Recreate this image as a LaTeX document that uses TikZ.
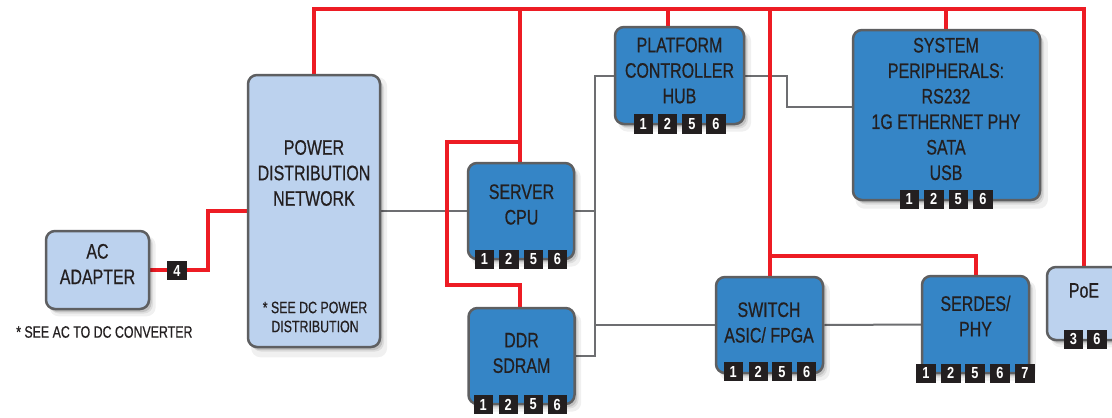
\documentclass[tikz,border=0pt]{standalone}
\usepackage{fontspec}
\setmainfont[FakeStretch=0.76,FakeBold=0.6]{Liberation Sans}
\newfontfamily\notefont[FakeStretch=0.75,FakeBold=0.5]{Liberation Sans}
\newfontfamily\badgefont[FakeStretch=0.8]{Liberation Sans Bold}
\usetikzlibrary{shadows}
\pgfdeclarelayer{paper}
\pgfdeclarelayer{wires}
\pgfsetlayers{paper,wires,main}
\definecolor{dkblue}{HTML}{3585C6}
\definecolor{ltblue}{HTML}{BCD2EE}
\definecolor{bordergray}{HTML}{5E5F61}
\definecolor{wirered}{HTML}{ED1C24}
\definecolor{wiregray}{HTML}{6D6E71}
\definecolor{ink}{HTML}{231F20}
\tikzset{
 softshadow/.style={
   general shadow={fill=black, opacity=0.06, shadow xshift=5pt, shadow yshift=-6pt, shadow scale=1.03},
   general shadow={fill=black, opacity=0.08, shadow xshift=4pt, shadow yshift=-4.5pt},
   general shadow={fill=black, opacity=0.12, shadow xshift=2.5pt, shadow yshift=-3pt}},
 box/.style={draw=bordergray, line width=2.5pt, rounded corners=9pt, inner sep=0pt, softshadow},
 bluebox/.style={box, fill=dkblue},
 lightbox/.style={box, fill=ltblue},
 lbl/.style={text=ink, align=center, font=\fontsize{21}{25.5}\selectfont, inner sep=0pt},
 note/.style={text=ink, align=center, font=\notefont\fontsize{16.5}{19}\selectfont, inner sep=0pt},
 badge/.style={fill=ink, text=white, minimum size=19.5pt, inner sep=0pt, font=\badgefont\fontsize{16}{16}\selectfont},
 redw/.style={draw=wirered, line width=4pt},
 grayw/.style={draw=wiregray, line width=2pt},
}
\begin{document}
\begin{tikzpicture}[x=1pt,y=-1pt]
\path[use as bounding box, clip] (0,0) rectangle (1112,418);
\begin{pgfonlayer}{paper}
\fill[white] (0,0) rectangle (1112,418);
\end{pgfonlayer}

% boxes
\node[lightbox, minimum width=103pt, minimum height=78pt] (ac) at (97.5,270) {};
\node[lightbox, minimum width=132pt, minimum height=272pt] (pdn) at (314,211) {};
\node[bluebox, minimum width=106pt, minimum height=96pt] (cpu) at (521,211) {};
\node[bluebox, minimum width=106pt, minimum height=96pt] (ddr) at (521.5,356) {};
\node[bluebox, minimum width=129pt, minimum height=97pt] (pch) at (679.5,75.5) {};
\node[bluebox, minimum width=187pt, minimum height=170pt] (sys) at (946.5,115) {};
\node[bluebox, minimum width=107pt, minimum height=96pt] (sw) at (769.5,325) {};
\node[bluebox, minimum width=107pt, minimum height=97pt] (serdes) at (975.5,324.5) {};
\node[lightbox, minimum width=74pt, minimum height=73pt] (poe) at (1084,303.5) {};

\begin{pgfonlayer}{wires}
% gray data wires
\draw[grayw] (pdn.east) -- (cpu.west);
\draw[grayw] (cpu.east) -- (595,211);
\draw[grayw] (pch.west) -- (595,75.5) -- (595,356) -- (ddr.east);
\draw[grayw] (595,325) -- (sw.west);
\draw[grayw] (sw.east) -- (serdes.west);
\draw[grayw] (pch.east) -- (787,75.5) -- (787,107) -- ([yshift=8pt]sys.west);
% red power wires
\draw[redw] (pdn.north) -- (314,9) -- (1084,9) -- (poe.north);
\draw[redw] (520,9) -- ([xshift=-1pt]cpu.north);
\draw[redw] (520,142) -- (447,142) -- (447,285) -- (520,285) -- ([xshift=-1.5pt]ddr.north);
\draw[redw] (668,9) -- ([xshift=-11.5pt]pch.north);
\draw[redw] (769.5,9) -- (sw.north);
\draw[redw] (769.5,256) -- (976,256) -- ([xshift=0.5pt]serdes.north);
\draw[redw] (946,9) -- ([xshift=-0.5pt]sys.north);
\draw[redw] (ac.east) -- (208,270) -- (208,211) -- (pdn.west);
\end{pgfonlayer}

% labels
\node[lbl] (acl) at (97.5,264) {AC\\ADAPTER};
\node[note, anchor=west] (acnote) at (16,332) {* SEE AC TO DC CONVERTER};
\node[lbl] (pdnl) at (314,173) {POWER\\DISTRIBUTION\\NETWORK};
\node[note] (pdnnote) at (315,317) {* SEE DC POWER\\DISTRIBUTION};
\node[lbl] (cpul) at (521.5,204.5) {SERVER\\CPU};
\node[lbl] (ddrl) at (521.5,353) {DDR\\SDRAM};
\node[lbl] (pchl) at (679.5,70.5) {PLATFORM\\CONTROLLER\\HUB};
\node[lbl] (sysl) at (946,109) {SYSTEM\\PERIPHERALS:\\RS232\\1G ETHERNET PHY\\SATA\\USB};
\node[lbl] (swl) at (769,322.5) {SWITCH\\ASIC/ FPGA};
\node[lbl] (serdesl) at (975.5,316) {SERDES/\\PHY};
\node[lbl] (poel) at (1084,290.5) {PoE};

% badges
\node[badge] (acb4) at (177,270.5) {4};
\foreach \n/\x in {1/484.5,2/508.8,5/533.5,6/557.5}
  \node[badge] (cpub\n) at (\x,259.3) {\n};
\foreach \n/\x in {1/483.3,2/508.3,5/533.3,6/557.3}
  \node[badge] (ddrb\n) at (\x,404.5) {\n};
\foreach \n/\x in {1/643.3,2/667.5,5/692,6/716}
  \node[badge] (pchb\n) at (\x,124) {\n};
\foreach \n/\x in {1/909.3,2/933.8,5/958.3,6/983}
  \node[badge] (sysb\n) at (\x,199.3) {\n};
\foreach \n/\x in {1/733.3,2/758.3,5/782,6/806.7}
  \node[badge] (swb\n) at (\x,371.7) {\n};
\foreach \n/\x in {1/926,2/950.8,5/975,6/1000,7/1025}
  \node[badge] (serdesb\n) at (\x,373.3) {\n};
\foreach \n/\x in {3/1073.3,6/1097}
  \node[badge] (poeb\n) at (\x,339.3) {\n};
\end{tikzpicture}
\end{document}
